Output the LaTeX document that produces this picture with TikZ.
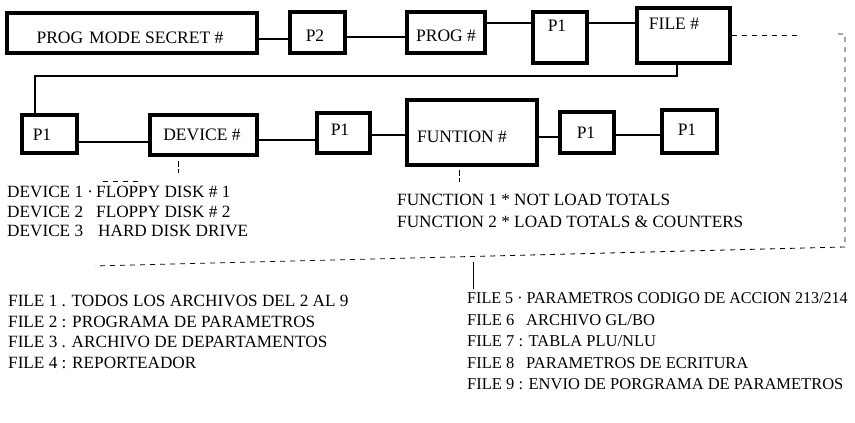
\documentclass[tikz,border=0pt]{standalone}
\usepackage{fontspec}
\setmainfont{Liberation Serif}
\begin{document}
\begin{tikzpicture}[x=1pt,y=-1pt,
  box/.style={draw, line width=3.4pt, fill=white, inner sep=0pt},
  conn/.style={line width=2.7pt},
  thindash/.style={line width=0.8pt, dash pattern=on 5pt off 5pt},
  lbl/.style={font=\fontsize{17.5}{20}\selectfont, inner sep=0pt, anchor=base},
  lst/.style={font=\fontsize{17.2}{20}\selectfont, inner sep=0pt, anchor=base west},
  lstr/.style={font=\fontsize{16.5}{20}\selectfont, inner sep=0pt, anchor=base west},
]
\useasboundingbox (0,0) rectangle (855,423);
% row 1 boxes
\node[box, minimum width=250pt, minimum height=40pt] (pms) at (132,33) {};
\node[box, minimum width=55pt, minimum height=41pt] (p2) at (317.5,32.5) {};
\node[box, minimum width=78pt, minimum height=41pt] (prog) at (446,32.5) {};
\node[box, minimum width=54pt, minimum height=51pt] (p1a) at (560,37.5) {};
\node[box, minimum width=93pt, minimum height=55pt] (file) at (683.5,35.5) {};
% row 2 boxes
\node[box, minimum width=55pt, minimum height=38pt] (p1b) at (49.5,134) {};
\node[box, minimum width=107pt, minimum height=40pt] (dev) at (203.5,135) {};
\node[box, minimum width=53pt, minimum height=40pt] (p1c) at (343.5,133) {};
\node[box, minimum width=130pt, minimum height=65pt] (func) at (472,132.5) {};
\node[box, minimum width=54pt, minimum height=41pt] (p1d) at (587,132.5) {};
\node[box, minimum width=55pt, minimum height=43pt] (p1e) at (689.5,131.5) {};
% box labels
\node[lbl] (tpms) at (130,43.6) {PROG\hspace{6pt}MODE SECRET \#};
\node[lbl] (tp2) at (315,41.6) {P2};
\node[lbl] (tprog) at (446,41.6) {PROG \#};
\node[lbl] (tp1a) at (557,31.6) {P1};
\node[lbl] (tfile) at (674,29.6) {FILE \#};
\node[lbl] (tp1b) at (42,140.6) {P1};
\node[lbl] (tdev) at (202,140.6) {DEVICE \#};
\node[lbl] (tp1c) at (340,135.6) {P1};
\node[lbl] (tfunc) at (462,142.6) {FUNTION \#};
\node[lbl] (tp1d) at (586,138.6) {P1};
\node[lbl] (tp1e) at (687,135.6) {P1};
% connectors row 1
\draw[conn] (pms.east |- 0,39) -- (p2.west |- 0,39);
\draw[conn] (p2.east |- 0,37) -- (prog.west |- 0,37);
\draw[conn] (prog.east |- 0,23) -- (p1a.west |- 0,23);
\draw[conn] (p1a.east |- 0,23) -- (file.west |- 0,23);
\draw[conn] (file.south -| 677,0) -- (677,76) -- (35,76) -- (p1b.north -| 35,0);
% connectors row 2
\draw[conn] (p1b.east |- 0,142) -- (dev.west |- 0,142);
\draw[conn] (dev.east |- 0,140) -- (p1c.west |- 0,140);
\draw[conn] (p1c.east |- 0,135) -- (func.west |- 0,135);
\draw[conn] (func.east |- 0,137) -- (p1d.west |- 0,137);
\draw[conn] (p1d.east |- 0,135) -- (p1e.west |- 0,135);
% dashed annotations
\coordinate (fend) at (798,35);
\draw[thindash] (file.east |- 0,35) -- (fend);
\coordinate (br) at (838,34);
\draw[thindash] (br) -- (845,34) -- (845,247) -- (95,266);
\draw[line width=0.9pt] (473,262) -- (473,289);
\draw[line width=0.8pt, dash pattern=on 6pt off 2pt] (dev.south -| 178,0) ++(0,4) -- (178,173);
\draw[thindash] (103,181) -- (140,181);
\draw[line width=0.8pt, dash pattern=on 6pt off 2pt] (func.south -| 459,0) ++(0,3) -- (459,182);
% device list
\node[lst] (d1) at (7,197.6) {\makebox[89pt][l]{DEVICE 1 ·}FLOPPY DISK \# 1};
\node[lst] (d2) at (7,217.6) {\makebox[89pt][l]{DEVICE 2}FLOPPY DISK \# 2};
\node[lst] (d3) at (7,236.6) {\makebox[91pt][l]{DEVICE 3}HARD DISK DRIVE};
% function list
\node[lst] (fn1) at (397,205.6) {FUNCTION 1 * NOT LOAD TOTALS};
\node[lst] (fn2) at (397,227.6) {FUNCTION 2 * LOAD TOTALS \& COUNTERS};
% file list left
\node[lst] (f1) at (8,306.6) {FILE 1 . TODOS LOS ARCHIVOS DEL 2 AL 9};
\node[lst] (f2) at (8,327.1) {FILE 2 : PROGRAMA DE PARAMETROS};
\node[lst] (f3) at (8,347.6) {FILE 3 . ARCHIVO DE DEPARTAMENTOS};
\node[lst] (f4) at (8,368.1) {FILE 4 : REPORTEADOR};
% file list right
\node[lstr] (f5) at (467,303.6) {\scalebox{0.975}[1]{FILE 5 · PARAMETROS CODIGO DE ACCION 213/214}};
\node[lstr] (f6) at (467,325.1) {\makebox[59pt][l]{FILE 6}ARCHIVO GL/BO};
\node[lstr] (f7) at (467,346.6) {FILE 7 : TABLA PLU/NLU};
\node[lstr] (f8) at (467,368.1) {\makebox[59pt][l]{FILE 8}PARAMETROS DE ECRITURA};
\node[lstr] (f9) at (467,389.6) {FILE 9 : ENVIO DE PORGRAMA DE PARAMETROS};
\end{tikzpicture}
\end{document}
